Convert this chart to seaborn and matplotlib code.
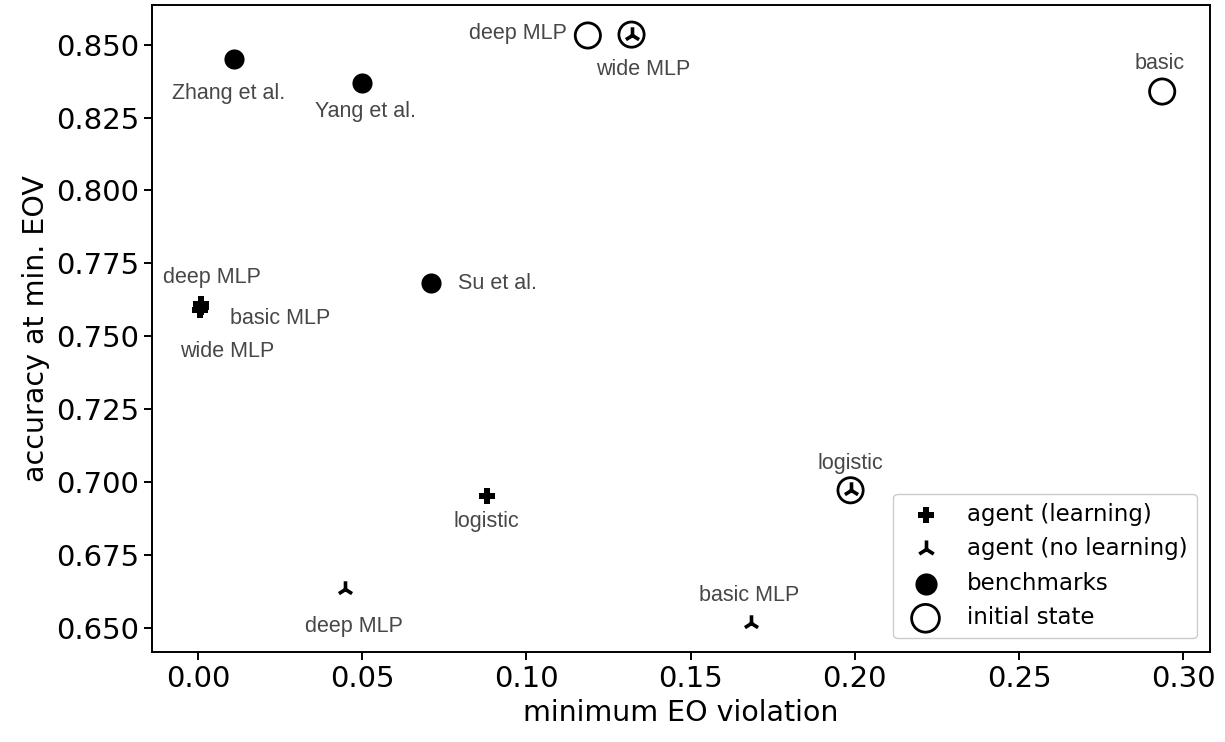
import pandas as pd
import matplotlib.pyplot as plt
import seaborn as sns

# data
learn_names = ["deep MLP", "basic MLP", "wide MLP", "logistic"]
learn_x = [0.0010, 0.0008, 0.0006, 0.0879]
learn_y = [0.7612, 0.7600, 0.7589, 0.6955]

nolearn_names = ["deep MLP", "basic MLP", "wide MLP", "logistic"]
nolearn_x = [0.0449, 0.1684, 0.1320, 0.1987]
nolearn_y = [0.6634, 0.6519, 0.8534, 0.6973]

bench_names = ["Zhang et al.", "Yang et al.", "Su et al."]
bench_x = [0.0110, 0.0500, 0.0708]
bench_y = [0.8450, 0.8367, 0.7682]

init_names = ["deep MLP", "wide MLP", "logistic", "basic"]
init_x = [0.1187, 0.1320, 0.1987, 0.2936]
init_y = [0.8531, 0.8534, 0.6973, 0.8339]

learn = pd.DataFrame({"x": learn_x, "y": learn_y, "name": learn_names})
nolearn = pd.DataFrame({"x": nolearn_x, "y": nolearn_y, "name": nolearn_names})
bench = pd.DataFrame({"x": bench_x, "y": bench_y, "name": bench_names})
init = pd.DataFrame({"x": init_x, "y": init_y, "name": init_names})

plt.rcParams["font.family"] = ["DejaVu Sans"]
plt.rcParams["xtick.major.size"] = 5.8
plt.rcParams["ytick.major.size"] = 5.8
plt.rcParams["xtick.major.width"] = 1.4
plt.rcParams["ytick.major.width"] = 1.4

fig, ax = plt.subplots(figsize=(12.25, 7.42), dpi=100)
fig.subplots_adjust(left=0.124, right=0.988, bottom=0.121, top=0.993)

sns.scatterplot(data=learn, x="x", y="y", marker="P", color="black", s=120,
                linewidth=0, ax=ax, label="agent (learning)", zorder=3)
sns.scatterplot(data=init, x="x", y="y", marker="o", facecolors="none",
                edgecolors="black", s=330, linewidth=2.0, ax=ax,
                label="initial state", zorder=2)
sns.scatterplot(data=nolearn, x="x", y="y", marker="2", color="black", s=140,
                linewidth=2.6, ax=ax, label="agent (no learning)", zorder=3)
sns.scatterplot(data=bench, x="x", y="y", marker="o", color="black", s=210,
                linewidth=0, ax=ax, label="benchmarks", zorder=3)

for sp in ax.spines.values():
    sp.set_linewidth(1.4)

# annotations (offsets in pixels)
txt_kw = dict(textcoords="offset pixels", color="#474747", fontsize=15.5,
              family="Liberation Sans", va="center")
ax.annotate("Zhang et al.", (bench_x[0], bench_y[0]), xytext=(-6, -34), ha="center", **txt_kw)
ax.annotate("Yang et al.", (bench_x[1], bench_y[1]), xytext=(3, -28), ha="center", **txt_kw)
ax.annotate("Su et al.", (bench_x[2], bench_y[2]), xytext=(27, 0), ha="left", **txt_kw)
ax.annotate("deep MLP", (init_x[0], init_y[0]), xytext=(-21, 2), ha="right", **txt_kw)
ax.annotate("wide MLP", (nolearn_x[2], nolearn_y[2]), xytext=(12, -35), ha="center", **txt_kw)
ax.annotate("basic", (init_x[3], init_y[3]), xytext=(-3, 28), ha="center", **txt_kw)
ax.annotate("logistic", (nolearn_x[3], nolearn_y[3]), xytext=(0, 27), ha="center", **txt_kw)
ax.annotate("logistic", (learn_x[3], learn_y[3]), xytext=(0, -26), ha="center", **txt_kw)
ax.annotate("deep MLP", (learn_x[0], learn_y[0]), xytext=(11, 26), ha="center", **txt_kw)
ax.annotate("basic MLP", (learn_x[1], learn_y[1]), xytext=(29, -11), ha="left", **txt_kw)
ax.annotate("wide MLP", (learn_x[2], learn_y[2]), xytext=(27, -41), ha="center", **txt_kw)
ax.annotate("deep MLP", (nolearn_x[0], nolearn_y[0]), xytext=(8, -37), ha="center", **txt_kw)
ax.annotate("basic MLP", (nolearn_x[1], nolearn_y[1]), xytext=(-2, 27), ha="center", **txt_kw)

ax.set_xlabel("minimum EO violation", fontsize=20.5)
ax.set_ylabel("accuracy at min. EOV", fontsize=20.5)
ax.tick_params(labelsize=21)
ax.set_xticks([0.0, 0.05, 0.10, 0.15, 0.20, 0.25, 0.30])
ax.set_xticklabels(["0.00", "0.05", "0.10", "0.15", "0.20", "0.25", "0.30"])
ax.set_yticks([0.650, 0.675, 0.700, 0.725, 0.750, 0.775, 0.800, 0.825, 0.850])
ax.set_yticklabels(["0.650", "0.675", "0.700", "0.725", "0.750", "0.775",
                    "0.800", "0.825", "0.850"])

handles, labels = ax.get_legend_handles_labels()
order = ["agent (learning)", "agent (no learning)", "benchmarks", "initial state"]
hmap = dict(zip(labels, handles))
ax.legend([hmap[o] for o in order], order, loc="lower right", fontsize=16.5,
          framealpha=1, edgecolor="#cccccc", borderaxespad=0.6, markerscale=1.1)

plt.savefig("out.png", dpi=100)
